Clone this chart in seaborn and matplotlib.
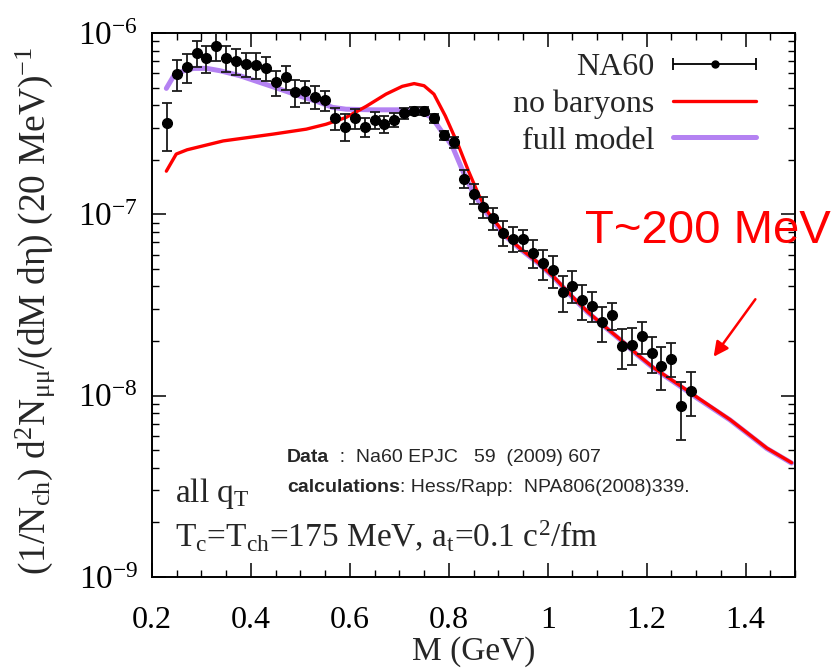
import numpy as np
import pandas as pd
import matplotlib
matplotlib.use('Agg')
import matplotlib.pyplot as plt
import seaborn as sns
from matplotlib.ticker import MultipleLocator, LogLocator, FuncFormatter
from matplotlib.legend_handler import HandlerErrorbar
from matplotlib.container import ErrorbarContainer

# NA60 dimuon data (units of 1e-7), 20 MeV bins
mass = [0.23, 0.25, 0.27, 0.29, 0.31, 0.33, 0.35, 0.37, 0.39, 0.41,
        0.43, 0.45, 0.47, 0.49, 0.51, 0.53, 0.55, 0.57, 0.59, 0.61,
        0.63, 0.65, 0.67, 0.69, 0.71, 0.73, 0.75, 0.77, 0.79, 0.81,
        0.83, 0.85, 0.87, 0.89, 0.91, 0.93, 0.95, 0.97, 0.99, 1.01,
        1.03, 1.05, 1.07, 1.09, 1.11, 1.13, 1.15, 1.17, 1.19, 1.21,
        1.23, 1.25, 1.27, 1.29]
na60 = [3.17, 5.94, 6.46, 7.75, 7.24, 8.51, 7.28, 6.98, 6.74, 6.68,
        6.41, 5.34, 5.69, 4.70, 4.76, 4.45, 4.26, 3.38, 3.05, 3.38,
        3.04, 3.32, 3.14, 3.32, 3.61, 3.72, 3.72, 3.38, 2.73, 2.49,
        1.575, 1.30, 1.10, 0.950, 0.792, 0.734, 0.727, 0.614, 0.536, 0.492,
        0.374, 0.405, 0.335, 0.314, 0.254, 0.278, 0.187, 0.191, 0.213, 0.172,
        0.146, 0.160, 0.088, 0.106]
na60_err = [0.93, 1.17, 1.19, 1.24, 1.23, 1.48, 1.20, 1.14, 1.03, 1.10,
            1.00, 0.84, 0.85, 0.78, 0.65, 0.64, 0.54, 0.48, 0.51, 0.43,
            0.37, 0.35, 0.33, 0.30, 0.24, 0.20, 0.20, 0.19, 0.16, 0.17,
            0.18, 0.165, 0.14, 0.13, 0.122, 0.116, 0.097, 0.107, 0.103, 0.10,
            0.085, 0.08, 0.072, 0.058, 0.056, 0.048, 0.047, 0.044, 0.043, 0.039,
            0.039, 0.034, 0.031, 0.029]

# model curves (units of 1e-7)
nobar_m = [0.229, 0.249, 0.271, 0.344, 0.445, 0.512, 0.552, 0.592, 0.633, 0.673,
           0.706, 0.730, 0.750, 0.770, 0.793, 0.820, 0.840, 0.860, 0.880, 0.901,
           0.914, 0.947, 0.981, 1.014, 1.048, 1.081, 1.115, 1.148, 1.182, 1.215,
           1.249, 1.282, 1.302, 1.369, 1.443, 1.493]
nobar_y = [1.73, 2.15, 2.27, 2.54, 2.77, 2.95, 3.14, 3.42, 3.94, 4.60,
           5.08, 5.26, 5.12, 4.60, 3.49, 2.38, 1.73, 1.29, 1.02, 0.862,
           0.766, 0.640, 0.541, 0.447, 0.356, 0.290, 0.241, 0.203, 0.168, 0.142,
           0.123, 0.107, 0.098, 0.0737, 0.0514, 0.0427]
full_m = [0.229, 0.244, 0.264, 0.284, 0.311, 0.338, 0.378, 0.418, 0.458, 0.498,
          0.539, 0.565, 0.592, 0.646, 0.699, 0.740, 0.766, 0.787, 0.807, 0.827,
          0.846, 0.870, 0.900, 0.914, 0.947, 0.981, 1.014, 1.048, 1.081, 1.115,
          1.148, 1.182, 1.215, 1.249, 1.282, 1.302, 1.369, 1.443, 1.493]
full_y = [4.95, 5.81, 6.19, 6.38, 6.38, 6.19, 5.81, 5.34, 4.91, 4.50,
          4.14, 3.89, 3.80, 3.77, 3.77, 3.72, 3.42, 2.83, 2.38, 1.77,
          1.37, 1.07, 0.848, 0.760, 0.635, 0.537, 0.444, 0.353, 0.288, 0.240,
          0.202, 0.167, 0.141, 0.122, 0.106, 0.097, 0.0733, 0.0511, 0.0425]

red = '#ff0000'
purple = '#b482f2'

sns.set_theme(style='ticks')
plt.rcParams['font.family'] = ['Liberation Serif', 'DejaVu Serif']
plt.rcParams['mathtext.fontset'] = 'custom'
plt.rcParams['mathtext.rm'] = 'Liberation Serif'
plt.rcParams['mathtext.it'] = 'Liberation Serif:italic'
plt.rcParams['mathtext.bf'] = 'Liberation Serif:bold'

fig = plt.figure(figsize=(8.34, 6.71), dpi=100)
ax = fig.add_axes([152 / 834, 1 - 577 / 671, 643 / 834, 544 / 671])

df_full = pd.DataFrame({'M': full_m, 'y': np.array(full_y) * 1e-7})
df_nobar = pd.DataFrame({'M': nobar_m, 'y': np.array(nobar_y) * 1e-7})

sns.lineplot(data=df_full, x='M', y='y', color=purple, lw=3.6, ax=ax, sort=False, zorder=2)
sns.lineplot(data=df_nobar, x='M', y='y', color=red, lw=2.4, ax=ax, sort=False, zorder=3)
h_full = ax.lines[0]
h_nobar = ax.lines[1]

ax.errorbar(mass, np.array(na60) * 1e-7, yerr=np.array(na60_err) * 1e-7,
            fmt='o', ms=7, color='black', ecolor='#1a1a1a', elinewidth=1.3,
            capsize=3.6, capthick=1.3, zorder=5)
# legend proxy with horizontal error bar like gnuplot key
h_na60 = ax.errorbar([np.nan], [np.nan], xerr=[1.0], fmt='o', ms=5, color='black',
                     elinewidth=1.3, capsize=4, capthick=1.3)

ax.set_yscale('log')
ax.set_xlim(0.2, 1.5)
ax.set_ylim(1e-9, 1e-6)
ax.xaxis.set_major_locator(MultipleLocator(0.2))
ax.xaxis.set_minor_locator(MultipleLocator(0.05))
ax.xaxis.set_major_formatter(FuncFormatter(lambda v, p: f'{v:g}'))
ax.yaxis.set_major_locator(LogLocator(base=10))
ax.yaxis.set_minor_locator(LogLocator(base=10, subs=np.arange(2, 10)))
ax.yaxis.set_minor_formatter(FuncFormatter(lambda v, p: ''))

ax.tick_params(which='both', direction='in', top=True, right=True, colors='black')
ax.tick_params(which='major', length=10, width=1.1)
ax.tick_params(which='minor', length=5, width=1.0)
ax.tick_params(axis='x', labelsize=23, pad=21)
ax.tick_params(axis='y', labelsize=24, pad=10)
for s in ax.spines.values():
    s.set_color('black')
    s.set_linewidth(1.4)

ax.set_xlabel('M (GeV)', fontsize=24)
ax.xaxis.set_label_coords(0.5, -0.108)
ax.set_ylabel(r'(1/N$_\mathrm{ch}$) d$^2$N$_{\mathrm{\mu\mu}}$/(dM dη) (20 MeV)$^{-1}$', fontsize=27)
ax.yaxis.set_label_coords(-0.148, 0.49)

ax.legend([h_na60, h_nobar, h_full], ['NA60', 'no baryons', 'full model'],
          loc='upper right', bbox_to_anchor=(0.94, 0.964), markerfirst=False,
          frameon=False, fontsize=23, handlelength=2.6, handletextpad=0.6,
          labelspacing=0.23, borderpad=0, borderaxespad=0,
          handler_map={ErrorbarContainer: HandlerErrorbar(xerr_size=1.3)})

# annotations
fig.text(175 / 834, 1 - 502 / 671, r'all q$_\mathrm{T}$', fontsize=24, va='baseline')
fig.text(175 / 834, 1 - 547 / 671,
         r'T$_\mathrm{c}$=T$_\mathrm{ch}$=175 MeV, a$_\mathrm{t}$=0.1 c$^2$/fm',
         fontsize=24, va='baseline')

t1 = fig.text(287 / 834, 1 - 462 / 671, 'Data', family='Liberation Sans',
              weight='bold', fontsize=14, va='baseline')
ax.annotate('  :  Na60 EPJC   59  (2009) 607', xy=(1, 0), xycoords=t1,
            family='Liberation Sans', fontsize=14, va='bottom', ha='left')
t2 = fig.text(287 / 834, 1 - 492 / 671, 'calculations', family='Liberation Sans',
              weight='bold', fontsize=14, va='baseline')
ax.annotate(': Hess/Rapp:  NPA806(2008)339.', xy=(1, 0), xycoords=t2,
            family='Liberation Sans', fontsize=14, va='bottom', ha='left')

fig.text(585 / 834, 1 - 243 / 671, 'T~200 MeV', family='Liberation Sans',
         color=red, fontsize=34, va='baseline')
ax.annotate('', xy=(712, 671 - 359), xycoords='figure pixels',
            xytext=(757, 671 - 297), textcoords='figure pixels',
            arrowprops=dict(arrowstyle='-|>', color=red, lw=1.8, mutation_scale=22))

fig.savefig('out.png', dpi=100)
